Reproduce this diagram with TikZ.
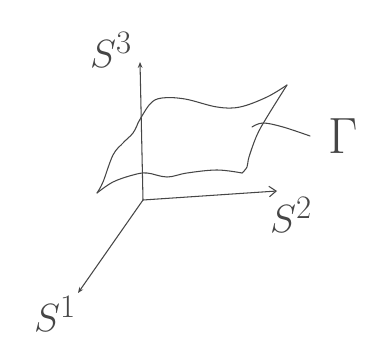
\documentclass[tikz,border=0pt]{standalone}
\usepackage{amsmath,amssymb}
\usepackage{xcolor}
\usepackage{tikz}
\usetikzlibrary{arrows.meta}
\definecolor{figline}{RGB}{70,70,70}
\tikzset{
  sc/.style  ={draw=figline, line width=0.9pt, line cap=round, line join=round},
  lab/.style ={text=figline, font=\Huge, scale=1.35, inner sep=0pt},
  labg/.style={text=figline, font=\Huge, scale=1.75, inner sep=0pt},
  ptr/.style ={sc, -{Straight Barb[length=6pt,width=9pt]}},
  ptrs/.style={sc, -{Stealth[length=5pt,width=4pt,open]}},
}

\begin{document}
\begin{tikzpicture}[x=0.03cm,y=-0.03cm]
  \fill[white] (0,0) rectangle (390,343);
  % axes
  \coordinate (O) at (143,200);
  \coordinate (e1) at (78,293);
  \coordinate (e2) at (277,191);
  \coordinate (e3) at (140,62);
  \draw[ptrs] (O) -- (e3);
  \draw[ptr] (O) -- (e2);
  \draw[ptrs] (O) -- (e1);
  \node[lab] (s3) at (111,50) {$S^3$};
  \node[lab] (s2) at (291,215) {$S^2$};
  \node[lab] (s1) at (55,314) {$S^1$};
  % surface
  \draw[sc] plot[smooth,tension=0.6] coordinates {(138,123) (150,104) (162,98) (185,99) (217,107) (240,107) (267,97) (287,85)};
  \draw[sc] plot[smooth,tension=0.6] coordinates {(287,85) (267,117) (257,135) (249,157) (247,167) (242,173)};
  \draw[sc] plot[smooth,tension=0.6] coordinates {(242,173) (217,170) (187,173) (167,177) (147,173) (133,175) (113,182) (97,193)};
  \draw[sc] plot[smooth,tension=0.6] coordinates {(97,193) (103,182) (113,155) (123,143) (133,133) (138,123)};
  % label of the surface
  \node[labg] (gam) at (343,136) {$\Gamma$};
  \coordinate (pin) at (310,136);
  \draw[sc] plot[smooth,tension=0.6] coordinates {(252,127) (263,123) (283,127) (pin)};
\end{tikzpicture}
\end{document}
